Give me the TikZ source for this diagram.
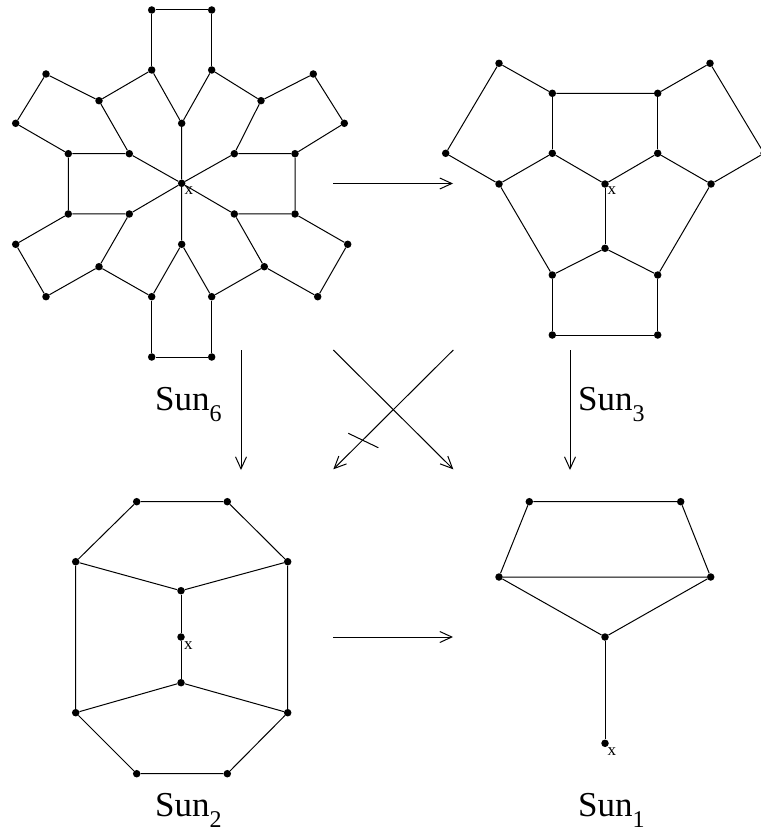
\documentclass[tikz,border=0pt]{standalone}
\usepackage{fontspec}
\setmainfont{Liberation Serif}
\usetikzlibrary{arrows.meta}
\newcommand{\sunsub}[1]{\raisebox{-11pt}{\fontsize{24}{24}\selectfont #1}}
\tikzset{
  dot/.style={circle,fill=black,draw=none,inner sep=0pt,minimum size=7.5pt},
  edge/.style={line width=1pt,black},
  arr/.style={line width=1pt,-{Straight Barb[length=12pt,width=11pt,line width=1pt]}},
  xlab/.style={font=\fontsize{17}{17}\selectfont,inner sep=0pt,anchor=base west},
  sunlab/.style={font=\fontsize{35}{35}\selectfont,inner sep=0pt,anchor=base west}
}
\begin{document}
\begin{tikzpicture}[x=1pt,y=-1pt]
\useasboundingbox (0,0) rectangle (760,834);
% ---------------- Sun6 ----------------
\node[dot] (c6) at (181.7,183.3) {};
\node[dot] (u) at (181.7,123.3) {};
\node[dot] (d) at (181.7,244.3) {};
\node[dot] (ul) at (129.3,153.7) {};
\node[dot] (ur) at (234.3,153.7) {};
\node[dot] (dl) at (129.3,214) {};
\node[dot] (dr) at (234.3,214) {};
\node[dot] (r1) at (151.7,70) {};
\node[dot] (r2) at (211.7,70) {};
\node[dot] (r3) at (261,100.7) {};
\node[dot] (r4) at (295,153.7) {};
\node[dot] (r5) at (295,214) {};
\node[dot] (r6) at (264.3,266.7) {};
\node[dot] (r7) at (211.7,296.7) {};
\node[dot] (r8) at (151.7,296.7) {};
\node[dot] (r9) at (99,266.7) {};
\node[dot] (r10) at (68.3,214) {};
\node[dot] (r11) at (68.3,153.7) {};
\node[dot] (r12) at (99,100.7) {};
\node[dot] (p1) at (151.7,10) {};
\node[dot] (p2) at (211.7,10) {};
\node[dot] (p3) at (313.3,74) {};
\node[dot] (p4) at (344.3,123.3) {};
\node[dot] (p5) at (347.7,244.3) {};
\node[dot] (p6) at (317.7,296.7) {};
\node[dot] (p7) at (211.7,357) {};
\node[dot] (p8) at (151.7,357) {};
\node[dot] (p9) at (46,296.7) {};
\node[dot] (p10) at (15.7,244.3) {};
\node[dot] (p11) at (15.7,123.3) {};
\node[dot] (p12) at (46,74) {};
\node[xlab] (x6) at (184.5,195) {x};
\draw[edge] (c6) -- (u) (c6) -- (d) (c6) -- (ul) (c6) -- (ur) (c6) -- (dl) (c6) -- (dr);
\draw[edge] (u) -- (r1) (u) -- (r2) (ur) -- (r3) (ur) -- (r4) (dr) -- (r5) (dr) -- (r6)
  (d) -- (r7) (d) -- (r8) (dl) -- (r9) (dl) -- (r10) (ul) -- (r11) (ul) -- (r12);
\draw[edge] (r2) -- (r3) (r4) -- (r5) (r6) -- (r7) (r8) -- (r9) (r10) -- (r11) (r12) -- (r1);
\draw[edge] (r1) -- (p1) -- (p2) -- (r2);
\draw[edge] (r3) -- (p3) -- (p4) -- (r4);
\draw[edge] (r5) -- (p5) -- (p6) -- (r6);
\draw[edge] (r7) -- (p7) -- (p8) -- (r8);
\draw[edge] (r9) -- (p9) -- (p10) -- (r10);
\draw[edge] (r11) -- (p11) -- (p12) -- (r12);
\node[sunlab] (l6) at (155,410) {Sun\sunsub{6}};
% ---------------- Sun3 ----------------
\node[dot] (t1) at (499,63.3) {};
\node[dot] (t2) at (710,63.3) {};
\node[dot] (t3) at (552.3,93.3) {};
\node[dot] (t4) at (657.7,93.3) {};
\node[dot] (t5) at (445.7,153.3) {};
\node[dot] (t6) at (552.3,153.3) {};
\node[dot] (t7) at (657.7,153.3) {};
\node[dot] (t8) at (764,153.3) {};
\node[dot] (t9) at (499,184) {};
\node[dot] (c3) at (605,184) {};
\node[dot] (t10) at (711,184) {};
\node[dot] (t11) at (605,248.3) {};
\node[dot] (t12) at (552.3,275) {};
\node[dot] (t13) at (657.7,275) {};
\node[dot] (t14) at (552.3,335) {};
\node[dot] (t15) at (657.7,335) {};
\node[xlab] (x3) at (607.5,195) {x};
\draw[edge] (t1) -- (t3) -- (t4) -- (t2);
\draw[edge] (t1) -- (t5) -- (t9);
\draw[edge] (t2) -- (t8) -- (t10);
\draw[edge] (t3) -- (t6) (t4) -- (t7);
\draw[edge] (t9) -- (t6) -- (c3) -- (t7) -- (t10);
\draw[edge] (c3) -- (t11);
\draw[edge] (t9) -- (t12) -- (t11) -- (t13) -- (t10);
\draw[edge] (t12) -- (t14) -- (t15) -- (t13);
\node[sunlab] (l3) at (578,410) {Sun\sunsub{3}};
% ---------------- Sun2 ----------------
\node[dot] (s1) at (136.7,501.7) {};
\node[dot] (s2) at (227.3,501.7) {};
\node[dot] (s3) at (75.7,561.7) {};
\node[dot] (s4) at (287.7,561.7) {};
\node[dot] (s5) at (181,590.7) {};
\node[dot] (c2) at (181,637) {};
\node[dot] (s6) at (181,682.7) {};
\node[dot] (s7) at (75.7,712.7) {};
\node[dot] (s8) at (287.7,712.7) {};
\node[dot] (s9) at (136.7,773.7) {};
\node[dot] (s10) at (227.3,773.7) {};
\node[xlab] (x2) at (184,649) {x};
\draw[edge] (s1) -- (s2) -- (s4) -- (s8) -- (s10) -- (s9) -- (s7) -- (s3) -- (s1);
\draw[edge] (s3) -- (s5) -- (s4);
\draw[edge] (s5) -- (c2) -- (s6);
\draw[edge] (s7) -- (s6) -- (s8);
\node[sunlab] (l2) at (155,816) {Sun\sunsub{2}};
% ---------------- Sun1 ----------------
\node[dot] (q1) at (529.3,501.7) {};
\node[dot] (q2) at (680.7,501.7) {};
\node[dot] (q3) at (499,577) {};
\node[dot] (q4) at (710.7,577) {};
\node[dot] (q5) at (605,637) {};
\node[dot] (c1) at (605,743.3) {};
\node[xlab] (x1) at (607.5,755) {x};
\draw[edge] (q1) -- (q2) -- (q4) -- (q3) -- (q1);
\draw[edge] (q3) -- (q5) -- (q4);
\draw[edge] (q5) -- (c1);
\node[sunlab] (l1) at (578,816) {Sun\sunsub{1}};
% ---------------- arrows ----------------
\coordinate (a1s) at (333,183.5);
\coordinate (a1e) at (453,183.5);
\coordinate (a2s) at (333,637);
\coordinate (a2e) at (453,637);
\coordinate (a3s) at (241,350);
\coordinate (a3e) at (241,470);
\coordinate (a4s) at (570,350);
\coordinate (a4e) at (570,470);
\coordinate (a5s) at (333.3,350);
\coordinate (a5e) at (453.3,469.3);
\coordinate (a6s) at (453.3,350);
\coordinate (a6e) at (333.3,469.3);
\coordinate (k1) at (348.3,433.3);
\coordinate (k2) at (378.3,447.7);
\draw[arr] (a1s) -- (a1e);
\draw[arr] (a2s) -- (a2e);
\draw[arr] (a3s) -- (a3e);
\draw[arr] (a4s) -- (a4e);
\draw[arr] (a5s) -- (a5e);
\draw[arr] (a6s) -- (a6e);
\draw[edge] (k1) -- (k2);
\end{tikzpicture}
\end{document}
